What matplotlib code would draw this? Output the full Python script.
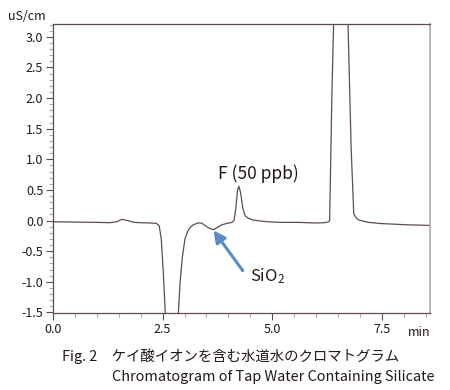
import matplotlib.pyplot as plt
from matplotlib.ticker import MultipleLocator

plt.rcParams['font.family'] = ['Noto Sans CJK JP', 'DejaVu Sans']
plt.rcParams['mathtext.fontset'] = 'custom'
plt.rcParams['mathtext.rm'] = 'Noto Sans CJK JP'
plt.rcParams['mathtext.default'] = 'rm'

# chromatogram trace (time in min, conductivity in uS/cm)
time = [0.0, 0.5, 1.0, 1.3, 1.45, 1.57, 1.7, 1.85, 2.0, 2.2, 2.35, 2.42, 2.47,
        2.52, 2.56, 2.62, 2.7, 2.78, 2.86, 2.9, 2.95, 3.01, 3.07, 3.13, 3.2,
        3.3, 3.38, 3.45, 3.55, 3.66, 3.75, 3.85, 3.95, 4.08, 4.13, 4.17, 4.21,
        4.24, 4.28, 4.33, 4.38, 4.45, 4.55, 4.65, 4.75, 4.9, 5.2, 5.6, 6.0,
        6.2, 6.28, 6.31, 6.33, 6.36, 6.40, 6.47, 6.56, 6.65, 6.73, 6.80, 6.86,
        6.92, 6.97, 7.2, 7.5, 7.8, 8.1, 8.4, 8.6]
signal = [-0.02, -0.025, -0.03, -0.035, -0.02, 0.02, 0.0, -0.03, -0.035, -0.04,
          -0.045, -0.08, -0.3, -0.9, -1.5, -2.2, -2.5, -2.2, -1.5, -1.0, -0.6,
          -0.30, -0.18, -0.11, -0.07, -0.04, -0.04, -0.07, -0.12, -0.15, -0.11,
          -0.07, -0.05, -0.03, 0.0, 0.2, 0.5, 0.56, 0.45, 0.2, 0.08, 0.04, 0.01,
          0.0, -0.01, -0.02, -0.03, -0.03, -0.04, -0.035, -0.02, 0.0, 0.8, 2.0,
          3.2, 5.5, 8.0, 5.5, 3.2, 1.2, 0.11, 0.04, 0.01, -0.03, -0.05, -0.06,
          -0.07, -0.075, -0.08]

x_ticks = [0.0, 2.5, 5.0, 7.5]
y_ticks = [3.0, 2.5, 2.0, 1.5, 1.0, 0.5, 0.0, -0.5, -1.0, -1.5]

dark = '#5e4e4b'
grey = '#b3aaa7'

fig = plt.figure(figsize=(4.5, 3.9), dpi=100)
ax = fig.add_axes([0.1178, 0.1974, 0.8378, 0.7411])
ax.plot(time, signal, color=dark, lw=0.9)

ax.set_xlim(0, 8.6)
ax.set_ylim(-1.51, 3.21)
ax.set_xticks(x_ticks)
ax.set_xticklabels([f'{v:.1f}' for v in x_ticks])
ax.set_yticks(y_ticks)
ax.set_yticklabels([f'{v:.1f}' for v in y_ticks])
ax.xaxis.set_minor_locator(MultipleLocator(0.5))
ax.yaxis.set_minor_locator(MultipleLocator(0.1))
ax.tick_params(axis='both', which='major', length=5, width=0.8, color=dark,
               labelsize=9, labelcolor='#231815', pad=2)
ax.tick_params(axis='both', which='minor', length=3, width=0.8, color=grey)

for side in ['left', 'top', 'bottom']:
    ax.spines[side].set_color(dark)
    ax.spines[side].set_linewidth(0.9)
ax.spines['right'].set_color(grey)
ax.spines['right'].set_linewidth(1.2)

ax.text(-0.02, 1.005, 'uS/cm', transform=ax.transAxes, ha='right', va='bottom',
        fontsize=9, color='#231815')
ax.text(1.0, -0.045, 'min', transform=ax.transAxes, ha='right', va='top',
        fontsize=9, color='#231815')

ax.text(4.68, 0.77, 'F (50 ppb)', ha='center', va='center', fontsize=12.5,
        color='#231815')
ax.annotate('', xy=(3.66, -0.16), xytext=(4.33, -0.82),
            arrowprops=dict(arrowstyle='-|>,head_length=0.7,head_width=0.35',
                            color='#5b8ac6', lw=2.2, shrinkA=0, shrinkB=0))
ax.text(4.5, -0.9, 'SiO$_2$', ha='left', va='center', fontsize=12,
        color='#231815')

fig.text(62 / 450, 1 - 356 / 390, 'Fig. 2\u3000ケイ酸イオンを含む水道水のクロマトグラム',
         ha='left', va='center', fontsize=10.4, color='#231815')
fig.text(112 / 450, 1 - 377 / 390, 'Chromatogram of Tap Water Containing Silicate',
         ha='left', va='center', fontsize=10.4, color='#231815')

fig.savefig('out.png', dpi=100)
